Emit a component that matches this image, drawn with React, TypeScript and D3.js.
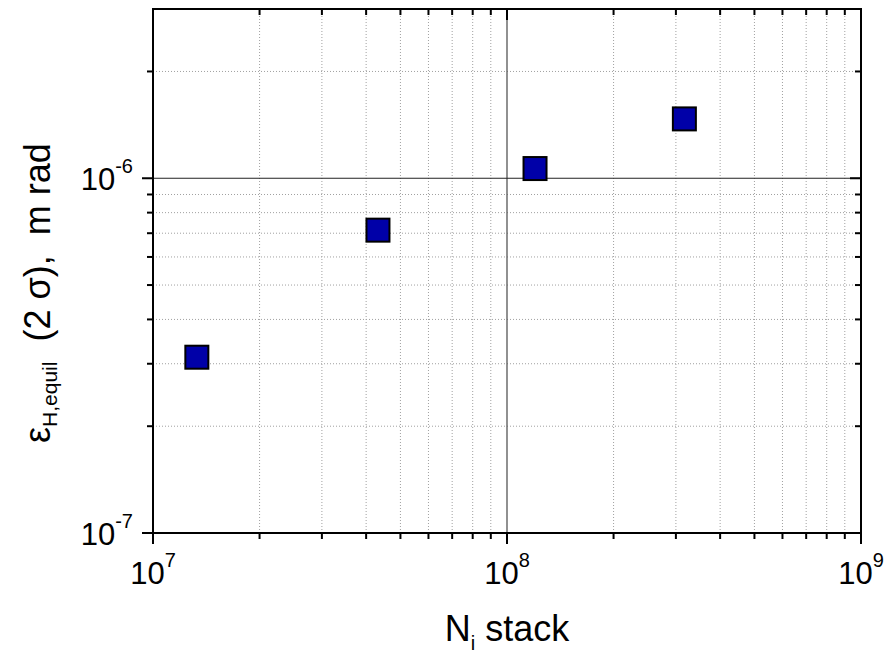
import React from 'react';
import * as d3 from 'd3';

// data points
const stackN = [1.33e7, 4.32e7, 1.2e8, 3.17e8];
const emittance = [3.13e-7, 7.14e-7, 1.065e-6, 1.47e-6];

const xMajor = [1e7, 1e8, 1e9];
const xMajorExp = ['7', '8', '9'];
const yMajor = [1e-7, 1e-6];
const yMajorExp = ['-7', '-6'];
const xMinor = [2e7, 3e7, 4e7, 5e7, 6e7, 7e7, 8e7, 9e7, 2e8, 3e8, 4e8, 5e8, 6e8, 7e8, 8e8, 9e8];
const yMinor = [2e-7, 3e-7, 4e-7, 5e-7, 6e-7, 7e-7, 8e-7, 9e-7, 2e-6];

const W = 888;
const H = 655;
const margin = { top: 9, right: 27, bottom: 122, left: 153 };

const App = () => {
  const x = d3.scaleLog().domain([1e7, 1e9]).range([margin.left, W - margin.right]);
  const y = d3.scaleLog().domain([1e-7, 3e-6]).range([H - margin.bottom, margin.top]);
  const [x0, x1] = x.range();
  const [y0, y1] = y.range();
  const font = 'Arial, "Liberation Sans", Helvetica, sans-serif';
  const markSize = 23;

  return (
    <svg width={W} height={H} style={{ position: 'absolute', left: 0, top: 0, background: '#fff' }} fontFamily={font}>
      {/* minor grid */}
      <g stroke="#a0a0a0" strokeWidth={1} strokeDasharray="1,2">
        {xMinor.map((d) => (
          <line key={'gx' + d} x1={x(d)} x2={x(d)} y1={y0} y2={y1} />
        ))}
        {yMinor.map((d) => (
          <line key={'gy' + d} x1={x0} x2={x1} y1={y(d)} y2={y(d)} />
        ))}
      </g>
      {/* major grid */}
      <line x1={x(1e8)} x2={x(1e8)} y1={y0} y2={y1} stroke="#555" strokeWidth={1.3} />
      <line x1={x0} x2={x1} y1={y(1e-6)} y2={y(1e-6)} stroke="#222" strokeWidth={1.2} />

      {/* ticks */}
      <g stroke="#000" strokeWidth={2}>
        {xMinor.map((d) => (
          <g key={'tx' + d}>
            <line x1={x(d)} x2={x(d)} y1={y0} y2={y0 + 6} />
            <line x1={x(d)} x2={x(d)} y1={y1} y2={y1 + 6} />
          </g>
        ))}
        {xMajor.map((d) => (
          <g key={'TX' + d}>
            <line x1={x(d)} x2={x(d)} y1={y0} y2={y0 + 11} />
            <line x1={x(d)} x2={x(d)} y1={y1} y2={y1 + 11} />
          </g>
        ))}
        {yMinor.map((d) => (
          <g key={'ty' + d}>
            <line x1={x0 - 6} x2={x0} y1={y(d)} y2={y(d)} />
            <line x1={x1 - 6} x2={x1} y1={y(d)} y2={y(d)} />
          </g>
        ))}
        {yMajor.map((d) => (
          <g key={'TY' + d}>
            <line x1={x0 - 11} x2={x0} y1={y(d)} y2={y(d)} />
            <line x1={x1 - 11} x2={x1} y1={y(d)} y2={y(d)} />
          </g>
        ))}
      </g>

      {/* frame */}
      <rect x={x0} y={y1} width={x1 - x0} height={y0 - y1} fill="none" stroke="#000" strokeWidth={2} />

      {/* tick labels */}
      {xMajor.map((d, i) => (
        <text key={'lx' + d} x={x(d)} y={y0 + 51} textAnchor="middle" fontSize={31} fill="#000">
          10<tspan fontSize={20} dy={-17}>{xMajorExp[i]}</tspan>
        </text>
      ))}
      {yMajor.map((d, i) => (
        <text key={'ly' + d} x={x0 - 20} y={y(d) + 12} textAnchor="end" fontSize={31} fill="#000">
          10<tspan fontSize={20} dy={-17}>{yMajorExp[i]}</tspan>
        </text>
      ))}

      {/* points */}
      {stackN.map((d, i) => (
        <rect
          key={'p' + i}
          x={x(d) - markSize / 2}
          y={y(emittance[i]) - markSize / 2}
          width={markSize}
          height={markSize}
          fill="#0000a8"
          stroke="#000"
          strokeWidth={2}
        />
      ))}

      {/* axis titles */}
      <text x={(x0 + x1) / 2} y={641} textAnchor="middle" fontSize={36} fill="#000">
        N<tspan fontSize={20} dy={9}>i</tspan>
        <tspan dy={-9}> stack</tspan>
      </text>
      <text transform={`translate(50,443) rotate(-90)`} fontSize={36} fill="#000" style={{ whiteSpace: 'pre' }}>
        ε<tspan fontSize={21} dy={7}>H,equil</tspan>
        <tspan dy={-7}>{'  (2 σ),  m rad'}</tspan>
      </text>
    </svg>
  );
};

export default App;
